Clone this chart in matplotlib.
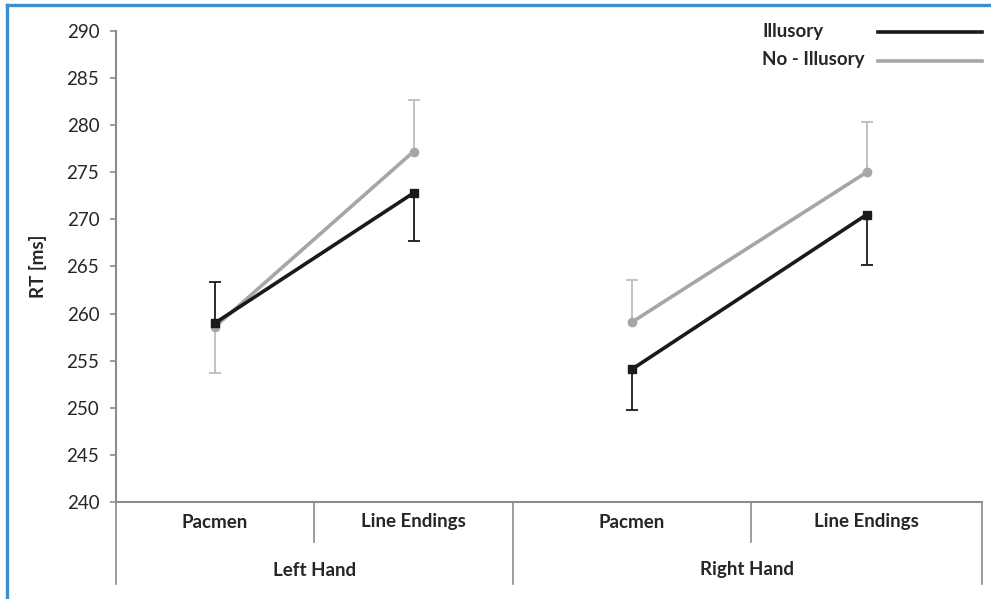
import matplotlib
matplotlib.use("Agg")
import matplotlib.pyplot as plt
from matplotlib.lines import Line2D
import numpy as np

plt.rcParams['font.family'] = ['Lato', 'DejaVu Sans']

# ---- data ----
conditions = ["Pacmen", "Line Endings", "Pacmen", "Line Endings"]
hands = ["Left Hand", "Right Hand"]
series_names = ["Illusory", "No - Illusory"]
illusory = [259.0, 272.8, 254.1, 270.5]
illusory_err_lower = [0.0, 5.1, 4.3, 5.3]
illusory_err_upper = [4.4, 0.0, 0.0, 0.0]
no_illusory = [258.6, 277.2, 259.1, 275.0]
no_illusory_err_lower = [4.9, 0.0, 0.0, 0.0]
no_illusory_err_upper = [0.0, 5.5, 4.5, 5.3]
y_ticks = [240, 245, 250, 255, 260, 265, 270, 275, 280, 285, 290]

# ---- layout (category cell widths, as in reference) ----
cell_widths = np.array([198, 199, 238, 231], dtype=float)
edges = np.concatenate([[0], np.cumsum(cell_widths)])
centers = (edges[:-1] + edges[1:]) / 2

W, H = 991, 599
fig = plt.figure(figsize=(W / 100, H / 100), dpi=100)
ax_left, ax_right = 116 / W, 982 / W
ax_top, ax_bottom = 1 - 31 / H, 1 - 502 / H
ax = fig.add_axes([ax_left, ax_bottom, ax_right - ax_left, ax_top - ax_bottom])

black = "#1a1a1a"
gray = "#a6a6a6"
gray_err = "#bdbdbd"
axis_gray = "#8c8c8c"
txt = "#262626"
FS = 13.5


def draw_series(vals, lo, hi, col, ecol, marker, ms, z):
    vals = np.asarray(vals, float)
    lo = np.asarray(lo, float)
    hi = np.asarray(hi, float)
    for i in range(len(vals)):
        for d in (-lo[i], hi[i]):
            if d != 0:
                ax.vlines(centers[i], vals[i], vals[i] + d, color=ecol, lw=1.3, zorder=z)
                ax.plot([centers[i]], [vals[i] + d], marker='_', ms=9, mew=1.3,
                        color=ecol, zorder=z)
    for g in range(2):
        sl = slice(2 * g, 2 * g + 2)
        ax.plot(centers[sl], vals[sl], color=col, lw=2.6, marker=marker, ms=ms,
                mfc=col, mec=col, zorder=z + 1, solid_capstyle='butt')


draw_series(no_illusory, no_illusory_err_lower, no_illusory_err_upper, gray, gray_err, 'o', 6, 2)
draw_series(illusory, illusory_err_lower, illusory_err_upper, black, black, 's', 5.5, 4)

ax.set_xlim(edges[0], edges[-1])
ax.set_ylim(240, 290)
ax.set_yticks(y_ticks)
ax.set_yticklabels([str(t) for t in y_ticks], fontsize=FS, color=txt)
ax.tick_params(axis='y', length=4, width=1.2, color=axis_gray, pad=8)
ax.set_xticks([])
for s in ["top", "right"]:
    ax.spines[s].set_visible(False)
for s in ["left", "bottom"]:
    ax.spines[s].set_color(axis_gray)
    ax.spines[s].set_linewidth(1.5)

ax.set_ylabel("RT [ms]", fontsize=FS, fontweight='bold', color=txt, labelpad=14)

# category axis (multi-level)
trans = ax.get_xaxis_transform()
px = 1 / (ax_top - ax_bottom) / H  # axes fraction per pixel (vertical)
inner_bottom = -(542 - 502) * px
outer_bottom = -(584 - 502) * px
for i, e in enumerate(edges):
    bottom = inner_bottom if i in (1, 3) else outer_bottom
    ax.add_line(Line2D([e, e], [0, bottom], transform=trans, color=axis_gray,
                       lw=1.2, clip_on=False))
for c, lab in zip(centers, conditions):
    ax.text(c, -(522 - 502) * px, lab, transform=trans, ha='center', va='center',
            fontsize=FS, fontweight='bold', color=txt)
for h_i, lab in enumerate(hands):
    c = (edges[2 * h_i] + edges[2 * h_i + 2]) / 2
    ax.text(c, -(570 - 502) * px, lab, transform=trans, ha='center', va='center',
            fontsize=FS, fontweight='bold', color=txt)

# legend (manual, Excel style)
for k, (name, col) in enumerate(zip(series_names, [black, gray])):
    yy = 1 - (32 + 28 * k) / H
    fig.text(762 / W, yy, name, ha='left', va='center', fontsize=FS,
             fontweight='bold', color=txt)
    fig.add_artist(Line2D([878 / W, 982 / W], [1 - (32 + 29 * k) / H] * 2,
                          transform=fig.transFigure, color=col, lw=2.6))

# blue frame (top and left)
blue = "#3e8ed0"
fig.add_artist(Line2D([7 / W, 7 / W], [0, 1 - 5 / H], transform=fig.transFigure, color=blue, lw=2.4))
fig.add_artist(Line2D([7 / W, 1], [1 - 5 / H, 1 - 5 / H], transform=fig.transFigure, color=blue, lw=2.4))

fig.savefig("out.png", dpi=100)
